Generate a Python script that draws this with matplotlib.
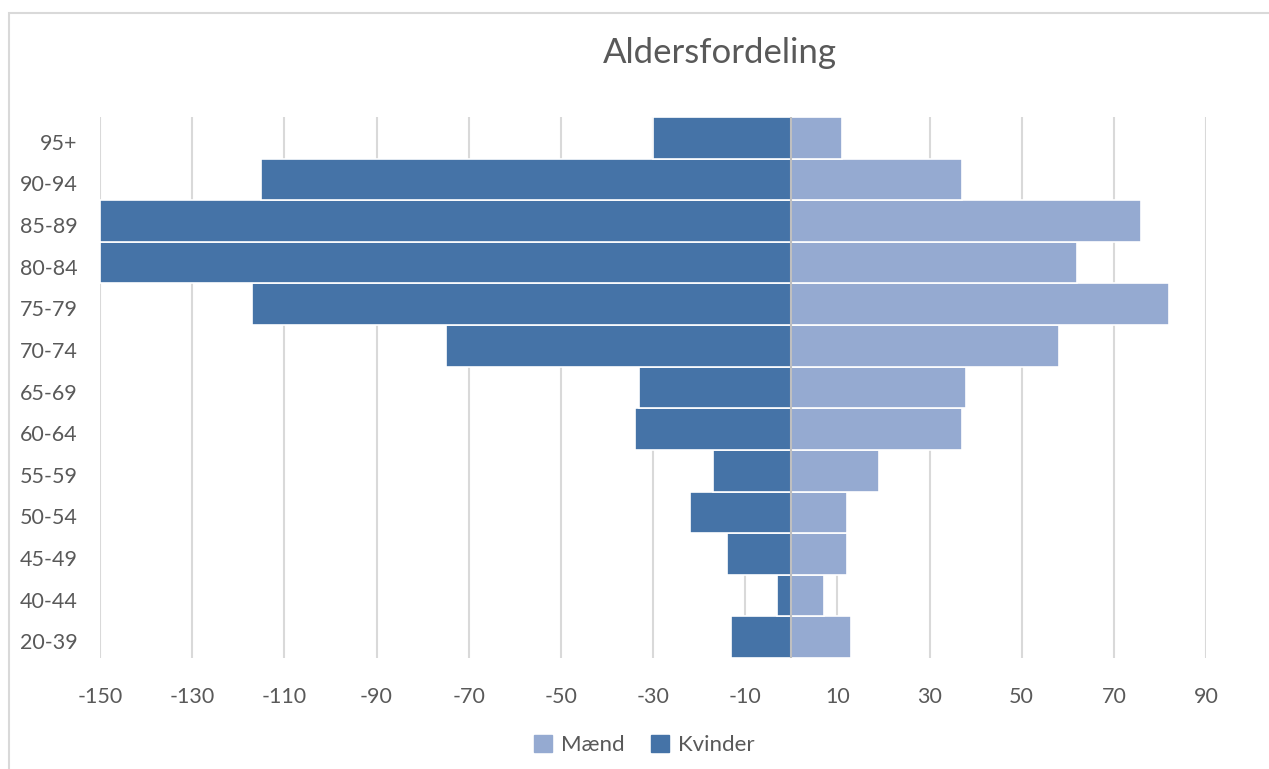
import matplotlib.pyplot as plt
from matplotlib.patches import Patch, Rectangle
from matplotlib.transforms import ScaledTranslation

age_groups = ["20-39", "40-44", "45-49", "50-54", "55-59", "60-64", "65-69",
              "70-74", "75-79", "80-84", "85-89", "90-94", "95+"]
maend = [13, 7, 12, 12, 19, 37, 38, 58, 82, 62, 76, 37, 11]
kvinder = [-13, -3, -14, -22, -17, -34, -33, -75, -117, -150, -150, -115, -30]
x_ticks = list(range(-150, 91, 20))

MAEND_COLOR = "#95AAD1"
KVINDER_COLOR = "#4573A7"
TEXT_COLOR = "#595959"
GRID_COLOR = "#D9D9D9"

plt.rcParams["font.family"] = ["Lato", "DejaVu Sans"]

W, H = 1269, 769
fig = plt.figure(figsize=(W / 100, H / 100), dpi=100)
ax = fig.add_axes([100 / W, 1 - 658 / H, (1206 - 100) / W, (658 - 117) / H])

pos = range(len(age_groups))
ax.barh(pos, kvinder, height=1.0, color=KVINDER_COLOR, edgecolor="white", linewidth=1.2, zorder=3)
ax.barh(pos, maend, height=1.0, color=MAEND_COLOR, edgecolor="white", linewidth=1.2, zorder=3)
ax.axvline(0, color="#BFBFBF", linewidth=1.5, zorder=4)

ax.set_xlim(-150, 90)
ax.set_ylim(-0.5, len(age_groups) - 0.5)
ax.set_xticks(x_ticks)
ax.set_xticklabels([str(t) for t in x_ticks])
ax.set_yticks(list(pos))
ax.set_yticklabels(age_groups)
ax.tick_params(axis="x", length=0, pad=21, labelsize=15.5, labelcolor=TEXT_COLOR)
ax.tick_params(axis="y", length=0, pad=16, labelsize=15.5, labelcolor=TEXT_COLOR)
shift = ScaledTranslation(0, -4 / 100, fig.dpi_scale_trans)
for lbl in ax.get_yticklabels():
    lbl.set_transform(lbl.get_transform() + shift)
ax.grid(axis="x", color=GRID_COLOR, linewidth=1.5, zorder=0)
ax.set_axisbelow(True)
for s in ax.spines.values():
    s.set_visible(False)

fig.text(720 / W, 1 - 53 / H, "Aldersfordeling", ha="center", va="center",
         fontsize=25, color=TEXT_COLOR)

handles = [Patch(color=MAEND_COLOR, label="Mænd"), Patch(color=KVINDER_COLOR, label="Kvinder")]
fig.legend(handles=handles, loc="center", bbox_to_anchor=(644 / W, 1 - 745 / H), ncol=2,
           frameon=False, fontsize=16, labelcolor=TEXT_COLOR, handlelength=0.8,
           handleheight=0.8, handletextpad=0.4, columnspacing=1.2)

fig.patches.append(Rectangle((9 / W, -0.05), 1.2, 1 - 13 / H + 0.05, transform=fig.transFigure,
                             fill=False, edgecolor="#D9D9D9", linewidth=1.5))

fig.savefig("out.png", dpi=100)
